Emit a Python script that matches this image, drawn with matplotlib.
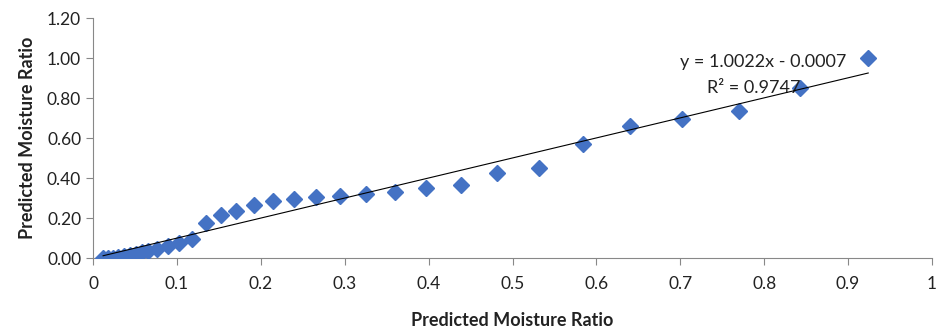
import numpy as np
import matplotlib.pyplot as plt

plt.rcParams['font.family'] = ['Lato', 'DejaVu Sans']

# values
pred_x = [0.012, 0.018, 0.024, 0.030, 0.037, 0.044, 0.051, 0.058, 0.066, 0.076,
          0.089, 0.103, 0.118, 0.135, 0.153, 0.171, 0.192, 0.215, 0.239, 0.266,
          0.294, 0.325, 0.360, 0.397, 0.439, 0.482, 0.531, 0.584, 0.640, 0.702,
          0.770, 0.843, 0.924]
pred_y = [0.000, 0.000, 0.002, 0.004, 0.010, 0.016, 0.022, 0.028, 0.036, 0.046,
          0.060, 0.076, 0.096, 0.177, 0.213, 0.237, 0.263, 0.283, 0.295, 0.307,
          0.312, 0.318, 0.332, 0.348, 0.367, 0.423, 0.451, 0.570, 0.662, 0.693,
          0.735, 0.848, 0.998]
slope = 1.0022
intercept = -0.0007
r2 = 0.9747

fig = plt.figure(figsize=(9.36, 3.29), dpi=100)
ax = fig.add_axes([0.0994, 0.2158, 0.8963, 0.7292])

ax.plot(pred_x, pred_y, linestyle='none', marker='D', markersize=8,
        color='#4472C4', zorder=3)
fx = np.array([min(pred_x), max(pred_x)])
ax.plot(fx, slope * fx + intercept, color='black', linewidth=0.8, zorder=4)

ax.text(0.799, 0.98, f'y = {slope:.4f}x - {abs(intercept):.4f}', ha='center',
        va='center', fontsize=13, color='#222222')
ax.text(0.787, 0.85, f'R² = {r2:.4f}', ha='center', va='center',
        fontsize=13, color='#222222')

ax.set_xlim(0, 1)
ax.set_ylim(0, 1.2)
ax.set_xticks(np.arange(0, 1.01, 0.1))
ax.set_xticklabels(['0'] + [f'{v:.1f}' for v in np.arange(0.1, 0.95, 0.1)] + ['1'])
ax.set_yticks(np.arange(0, 1.21, 0.2))
ax.set_yticklabels([f'{v:.2f}' for v in np.arange(0, 1.21, 0.2)])
ax.tick_params(direction='out', length=5, color='#888888', labelsize=12.5,
               labelcolor='#222222')
ax.tick_params(axis='x', pad=8)
for s in ['top', 'right']:
    ax.spines[s].set_visible(False)
for s in ['left', 'bottom']:
    ax.spines[s].set_color('#888888')

ax.set_xlabel('Predicted Moisture Ratio', fontsize=13, fontweight='bold',
              color='#222222', labelpad=14)
ax.set_ylabel('Predicted Moisture Ratio', fontsize=13, fontweight='bold',
              color='#222222', labelpad=8)

fig.savefig('out.png', dpi=100)
